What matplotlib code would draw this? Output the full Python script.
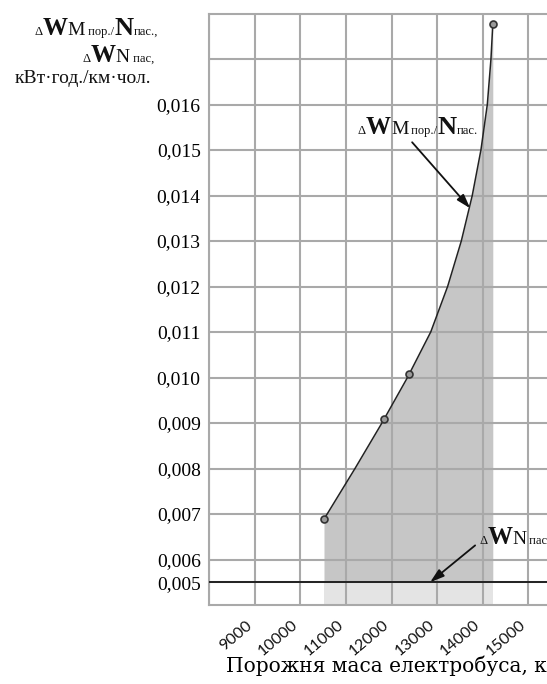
import numpy as np
import matplotlib
matplotlib.use("Agg")
import matplotlib.pyplot as plt
from matplotlib.offsetbox import TextArea, HPacker, AnnotationBbox
from matplotlib.transforms import ScaledTranslation, blended_transform_factory

# Empty mass of the e-bus (kg) and specific energy per passenger (kWh/km·pass.)
curve_mass = [10520, 10590, 11200, 11790, 12350, 12860, 13230, 13530,
              13770, 13960, 14100, 14180, 14220]
curve_energy = [0.00689, 0.00700, 0.00800, 0.00900, 0.01000, 0.01100, 0.01200,
                0.01300, 0.01400, 0.01500, 0.01600, 0.01700, 0.01776]
point_mass = [10520, 11840, 12390, 14220]
point_energy = [0.00689, 0.00908, 0.01007, 0.01776]
dw_n = 0.005

x_ticks = [9000, 10000, 11000, 12000, 13000, 14000, 15000]
x_grid = [8000, 9000, 10000, 11000, 12000, 13000, 14000, 15000, 16000]
y_ticks = [0.005, 0.006, 0.007, 0.008, 0.009, 0.010, 0.011, 0.012, 0.013,
           0.014, 0.015, 0.016, 0.017]
y_tick_labels = ["0,005", "0,006", "0,007", "0,008", "0,009", "0,010", "0,011",
                 "0,012", "0,013", "0,014", "0,015", "0,016", ""]

SERIF = "Liberation Serif"
GRID = "#a9a9a9"
INK = "#111111"


# below 0.006 the axis is compressed by half (as on the original drawing)
def fwd(y):
    y = np.asarray(y, dtype=float)
    return np.where(y >= 0.006, y, 0.006 - (0.006 - y) * 0.5)


def inv(u):
    u = np.asarray(u, dtype=float)
    return np.where(u >= 0.006, u, 0.006 - (0.006 - u) * 2.0)


fig = plt.figure(figsize=(5.47, 6.84), dpi=100)
ax = fig.add_axes([209 / 547, 1 - 605 / 684, 365 / 547, (605 - 13.5) / 684])
ax.set_yscale("function", functions=(fwd, inv))
ax.set_xlim(8000, 16000)
ax.set_ylim(0.004, 0.018)

# shaded areas
ax.fill_between(curve_mass, dw_n, curve_energy, color="#c6c6c6", lw=0, zorder=1)
ax.fill_between([curve_mass[0], curve_mass[-1]], 0.004, dw_n, color="#e4e4e4",
                lw=0, zorder=1)

ax.set_xticks(x_grid)
ax.set_xticklabels([])
# rotated x labels, placed by hand so they sit like on the original
lab_tr = blended_transform_factory(ax.transData, ax.transAxes) + \
    ScaledTranslation(-9 / 100, -13 / 100, fig.dpi_scale_trans)
for v in x_ticks:
    ax.text(v, 0, str(v), transform=lab_tr, rotation=40, ha="right", va="top",
            rotation_mode="anchor", family="Lato", fontsize=11.5, color=INK)

ax.set_yticks(y_ticks)
ax.set_yticklabels(y_tick_labels, family=SERIF, fontsize=14)
ax.tick_params(length=0)
ax.tick_params(axis="y", pad=6)
ax.grid(True, color=GRID, lw=1.5, zorder=1.5)
for s in ax.spines.values():
    s.set_color(GRID)
    s.set_linewidth(1.5)

ax.axhline(dw_n, color="#222222", lw=1.4, zorder=3)
ax.plot(curve_mass, curve_energy, color="#222222", lw=1.1, zorder=3)
ax.plot(point_mass, point_energy, "o", ms=5, mfc="#9a9a9a", mec="#333333",
        mew=1.2, zorder=4)

ax.set_xlabel("Порожня маса електробуса, кг", family="DejaVu Serif",
              fontsize=14.5, va="top")
ax.xaxis.set_label_coords(0.5, -(656 - 605) / 591.5)

# arrows to the curve and to the ΔW_N line
arrow = dict(arrowstyle="-|>,head_length=0.7,head_width=0.22", color=INK,
             lw=1.3, mutation_scale=12, shrinkA=0, shrinkB=0)
ax.annotate("", xy=(13724, 0.01372), xytext=(12452, 0.01517), arrowprops=arrow,
            zorder=5)
ax.annotate("", xy=(12846, 0.005), xytext=(13833, 0.00631), arrowprops=arrow,
            zorder=5)


def label(parts, xy, align):
    areas = [TextArea(t, textprops=dict(family=SERIF, fontsize=fs,
                                        fontweight=fw, color=INK))
             for t, fs, fw in parts]
    box = HPacker(children=areas, align="baseline", pad=0, sep=0)
    ab = AnnotationBbox(box, xy, xycoords="figure pixels", frameon=False,
                        box_alignment=align, pad=0, annotation_clip=False)
    fig.add_artist(ab)


def parts_mn(tail):
    return [("Δ", 9, "normal"), ("W", 18, "bold"), ("M", 14, "normal"),
            (" пор./", 9, "normal"), ("N", 19, "bold"), (tail, 9, "normal")]


def parts_n():
    return [("Δ", 9, "normal"), ("W", 18, "bold"), ("N", 14, "normal"),
            (" пас,", 9, "normal")]


# axis title (top left)
label(parts_mn("пас.,"), (158, 684 - 40), (1, 0))
label(parts_n(), (154, 684 - 67), (1, 0))
fig.text(151 / 547, 1 - 83 / 684, "кВт·год./км·чол.", family=SERIF,
         fontsize=14, ha="right", va="baseline", color=INK)

# curve labels
label(parts_mn("пас."), (478, 684 - 139), (1, 0))
label(parts_n(), (479, 684 - 549), (0, 0))

fig.savefig("out.png", dpi=100)
